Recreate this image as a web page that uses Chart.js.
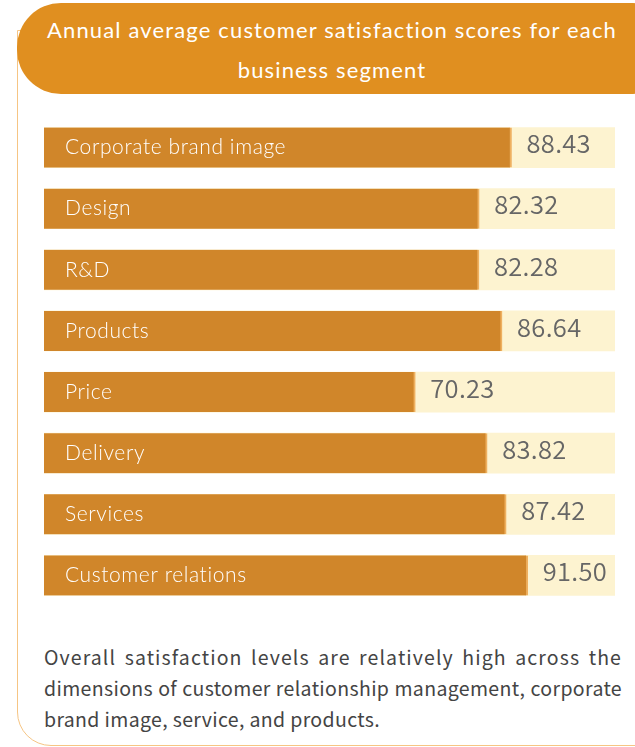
<!DOCTYPE html>
<html><head><meta charset="utf-8">
<script src="https://cdn.jsdelivr.net/npm/chart.js@4/dist/chart.umd.min.js"></script>
<style>
html,body{margin:0;padding:0;background:#fff;width:635px;height:747px;overflow:hidden;}
#card{position:absolute;left:17px;top:30px;width:640px;height:716px;border:1.5px solid #f6c584;border-radius:0 0 0 34px;box-sizing:border-box;}
#head{position:absolute;left:17px;top:3px;width:660px;height:91px;background:#e08f20;border-radius:44px;color:#fff;text-align:center;font-family:"Lato",sans-serif;font-weight:400;font-size:22px;letter-spacing:1.15px;line-height:40px;padding-top:7px;box-sizing:border-box;}
#head div{width:630px;}
#wrap{position:absolute;left:44px;top:117px;width:571px;height:489px;}
#note{position:absolute;left:44px;top:641px;width:578px;white-space:nowrap;font-family:"Noto Sans CJK SC","Noto Sans",sans-serif;font-size:19.5px;line-height:31px;color:#444;letter-spacing:0.35px;}
#note span{display:block;}
#note .j{text-align:justify;text-align-last:justify;}
#note .w{letter-spacing:1.1px;}
</style></head>
<body>
<div id="card"></div>
<div id="head"><div>Annual average customer satisfaction scores for each<br>business segment</div></div>
<div id="wrap"><canvas id="c"></canvas></div>
<div id="note"><span class="j w">Overall satisfaction levels are relatively high across the</span><span class="j">dimensions of customer relationship management, corporate</span><span>brand image, service, and products.</span></div>
<script>
const categories = ["Corporate brand image","Design","R&D","Products","Price","Delivery","Services","Customer relations"];
const scores = [88.43,82.32,82.28,86.64,70.23,83.82,87.42,91.50];
const trackMax = 108;
const trackValues = categories.map(()=>trackMax);

const labelPlugin = {
  id:'labels',
  afterDatasetsDraw(chart){
    const ctx = chart.ctx;
    const meta = chart.getDatasetMeta(1);
    ctx.save();
    ctx.textBaseline = 'middle';
    meta.data.forEach((bar,i)=>{
      ctx.fillStyle = '#fff';
      ctx.font = '300 21px "Lato",sans-serif';
      ctx.letterSpacing = '0.6px';
      ctx.textAlign = 'left';
      ctx.fillText(categories[i], chart.chartArea.left + 21, bar.y);
      ctx.fillStyle = '#666';
      ctx.font = '350 25.5px "Noto Sans CJK SC","Noto Sans",sans-serif';
      ctx.letterSpacing = '0.3px';
      ctx.fillText(scores[i].toFixed(2), bar.x + 15, bar.y - 4);
    });
    ctx.restore();
  }
};

new Chart(document.getElementById('c'),{
  type:'bar',
  data:{labels:categories,datasets:[
    {data:trackValues,backgroundColor:'#fdf3d0',barThickness:40,order:2},
    {data:scores,backgroundColor:'#d0862a',borderColor:'#eeb060',borderWidth:{right:2,left:0,top:0,bottom:0},borderSkipped:false,barThickness:40,order:1}
  ]},
  options:{
    indexAxis:'y',responsive:true,maintainAspectRatio:false,animation:false,
    layout:{padding:0},
    datasets:{bar:{grouped:false}},
    plugins:{legend:{display:false},tooltip:{enabled:false}},
    scales:{
      x:{display:false,min:0,max:trackMax},
      y:{display:false}
    }
  },
  plugins:[labelPlugin]
});
</script>
</body></html>
